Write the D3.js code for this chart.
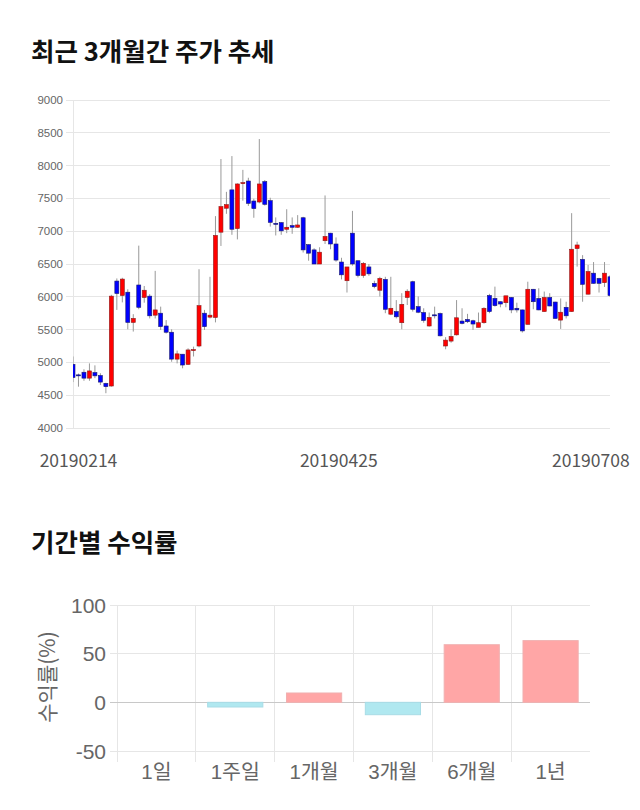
<!DOCTYPE html>
<html><head><meta charset="utf-8">
<script src="https://cdn.jsdelivr.net/npm/d3@7/dist/d3.min.js"></script>
<style>
body{margin:0;background:#fff;}
svg{display:block;}
</style></head>
<body>
<div id="chart"></div>
<script>
// ---- Data: candlestick (최근 3개월간 주가 추세) ----
const opens  = [4970,4810,4850,4760,4845,4800,4680,4640,6240,6020,6070,5610,6180,5990,6010,5720,5750,5555,5460,5050,5125,4970,5190,5250,5750,5690,5685,6985,7350,7630,7040,7735,7765,7460,7445,7755,7465,7120,7130,7030,7085,7060,7205,6795,6715,6500,6855,6970,6805,6530,6245,6970,6550,6325,6455,6205,6100,6265,5735,5775,5605,5990,6230,5850,5760,5555,5725,5745,5250,5325,5420,5630,5655,5635,5535,5605,6020,5975,5925,5910,5990,5825,5800,5580,6115,5975,5775,5990,5920,5645,5840,5775,6735,6570,6040,6360,6280,6215,6305];
const closes = [4770,4800,4760,4870,4795,4700,4630,6010,6050,6270,5610,5670,5840,6100,5710,5800,5545,5460,5050,5130,4960,5190,5195,5865,5545,5720,6935,7375,7405,7030,7720,7740,7425,7345,7720,7410,7135,7115,7005,7060,7060,7095,6715,6665,6500,6680,6920,6805,6560,6335,6455,6500,6325,6510,6350,6155,6280,5810,5825,5695,5885,6085,5810,5765,5640,5685,5720,5405,5340,5395,5680,5595,5620,5585,5605,5825,5775,5865,5890,6015,5800,5800,5480,6115,5925,5800,5990,5860,5670,5765,5710,6725,6790,6190,6385,6205,6205,6360,6020];
const highs  = [5090,4830,4895,4985,4955,4835,4690,6030,6280,6290,6115,5735,6780,6165,6040,6395,5850,5645,5505,5180,5125,5215,5240,6420,5800,6305,7230,8100,7600,8145,7730,7935,7815,7495,8405,7780,7510,7210,7140,7335,7210,7245,7220,6800,6740,6755,7545,6975,6905,6595,6455,7310,6550,6530,6500,6245,6305,6305,6305,5950,6055,6115,6245,6005,5825,5760,5850,5760,5385,5505,5950,5825,5740,5650,5760,5840,6045,6155,5930,6015,5995,5910,5805,6230,6120,6130,6080,6055,5925,5975,5925,7275,6840,6635,6485,6530,6290,6530,6330];
const lows   = [4700,4630,4720,4720,4760,4655,4530,4630,5800,5915,5505,5470,5810,5910,5670,5670,5495,5440,5010,4985,4910,4960,5090,5230,5495,5670,5610,6775,7265,6945,6875,7465,7385,7205,7425,7390,7070,6935,6945,6970,6960,7050,6675,6550,6500,6500,6805,6725,6535,6265,6065,6475,6295,6290,6320,6130,6005,5750,5720,5670,5505,5875,5775,5750,5605,5545,5670,5395,5200,5300,5410,5580,5600,5495,5535,5590,5750,5850,5840,5840,5750,5760,5455,5580,5810,5795,5770,5855,5665,5510,5670,5770,6460,5925,6035,6200,6065,6150,6000];
const priceTicks = [4000,4500,5000,5500,6000,6500,7000,7500,8000,8500,9000];
const dateLabels = ["20190214","20190425","20190708"];
const dateLabelIndex = [1,48.5,94.5];

// ---- Data: returns (기간별 수익률) ----
const periods = ["1일","1주일","1개월","3개월","6개월","1년"];
const returns = [0,-4.8,9.6,-12.7,59.2,63.4];
const returnTicks = [-50,0,50,100];

const W = 640, H = 810;
const svg = d3.select("#chart").append("svg").attr("width",W).attr("height",H);
const kfont = "'Noto Sans CJK KR','Noto Sans',sans-serif";
const afont = "'Liberation Sans',Arial,'Noto Sans CJK KR',sans-serif";

// Titles
svg.append("text").attr("x",31).attr("y",61).text("최근 3개월간 주가 추세")
  .attr("font-family",kfont).attr("font-weight",700).attr("font-size",25.5).attr("fill","#111");
svg.append("text").attr("x",31).attr("y",552).text("기간별 수익률")
  .attr("font-family",kfont).attr("font-weight",700).attr("font-size",25.5).attr("fill","#111");

// ---- Candlestick chart ----
const cx0 = 73, cx1 = 610, cy0 = 100, cy1 = 428;
const x = d3.scaleLinear().domain([0, opens.length-1]).range([cx0, cx1]);
const y = d3.scaleLinear().domain([4000, 9000]).range([cy1, cy0]);

const g1 = svg.append("g");
g1.selectAll("line.hg").data(priceTicks).join("line")
  .attr("x1",cx0-7).attr("x2",cx1).attr("y1",d=>y(d)).attr("y2",d=>y(d))
  .attr("stroke","#e6e6e6").attr("stroke-width",1).attr("shape-rendering","crispEdges");
g1.append("line").attr("x1",cx0).attr("x2",cx0).attr("y1",cy0).attr("y2",cy1)
  .attr("stroke","#e6e6e6").attr("shape-rendering","crispEdges");
g1.selectAll("text.yl").data(priceTicks).join("text")
  .attr("x",63).attr("y",d=>y(d)+4).attr("text-anchor","end")
  .attr("font-family",afont).attr("font-size",11.5).attr("fill","#666").text(d=>d);
g1.selectAll("text.xl").data(dateLabels).join("text")
  .attr("x",(d,i)=>x(dateLabelIndex[i])).attr("y",467).attr("text-anchor","middle")
  .attr("font-family",kfont).attr("font-size",17.5).attr("fill","#555").text(d=>d);

svg.append("clipPath").attr("id","clipC").append("rect")
  .attr("x",cx0).attr("y",cy0-5).attr("width",cx1-cx0).attr("height",cy1-cy0+10);
const candles = svg.append("g").attr("clip-path","url(#clipC)");
const idx = d3.range(opens.length);
candles.selectAll("line.wick").data(idx).join("line")
  .attr("x1",i=>x(i)).attr("x2",i=>x(i)).attr("y1",i=>y(highs[i])).attr("y2",i=>y(lows[i]))
  .attr("stroke","#999").attr("stroke-width",1);
const bw = 4;
candles.selectAll("rect.body").data(idx).join("rect")
  .attr("x",i=>x(i)-bw/2).attr("width",bw)
  .attr("y",i=>y(Math.max(opens[i],closes[i])))
  .attr("height",i=>Math.max(1,Math.abs(y(opens[i])-y(closes[i]))))
  .attr("fill",i=>closes[i]>=opens[i]?"#ff0000":"#0000ff")
  .attr("stroke",i=>closes[i]>=opens[i]?"#8b1a1a":"#1a1a6b").attr("stroke-width",0.6);

// ---- Returns bar chart ----
const bx0 = 117, bx1 = 590;
const xb = d3.scaleBand().domain(periods).range([bx0, bx1]).padding(0);
const yb = d3.scaleLinear().domain([-50,100]).range([751,605]);
const g2 = svg.append("g");
g2.selectAll("line.vg").data(periods).join("line")
  .attr("x1",d=>xb(d)).attr("x2",d=>xb(d)).attr("y1",yb(100)).attr("y2",762)
  .attr("stroke","#e6e6e6").attr("shape-rendering","crispEdges");
g2.selectAll("line.hg").data(returnTicks).join("line")
  .attr("x1",bx0-7).attr("x2",bx1).attr("y1",d=>yb(d)).attr("y2",d=>yb(d))
  .attr("stroke",d=>d===0?"#c8c8c8":"#e6e6e6").attr("shape-rendering","crispEdges");
g2.selectAll("text.yl").data(returnTicks).join("text")
  .attr("x",106).attr("y",d=>yb(d)+7.5).attr("text-anchor","end")
  .attr("font-family",afont).attr("font-size",21).attr("fill","#666").text(d=>d);
g2.selectAll("text.xl").data(periods).join("text")
  .attr("x",d=>xb(d)+xb.bandwidth()/2).attr("y",779).attr("text-anchor","middle")
  .attr("font-family",afont).attr("font-size",20.5).attr("fill","#666").text(d=>d);
g2.append("text").attr("transform","translate(55,677) rotate(-90)")
  .attr("text-anchor","middle").attr("font-family",kfont).attr("font-size",21)
  .attr("fill","#666").text("수익률(%)");
const barW = xb.bandwidth()*0.7;
g2.selectAll("rect.bar").data(periods).join("rect")
  .attr("x",d=>xb(d)+(xb.bandwidth()-barW)/2).attr("width",barW)
  .attr("y",(d,i)=>yb(Math.max(0,returns[i])))
  .attr("height",(d,i)=>Math.abs(yb(returns[i])-yb(0)))
  .attr("fill",(d,i)=>returns[i]>=0?"#ffa6a6":"#b0e8f0")
  .attr("stroke",(d,i)=>returns[i]>=0?"#f0b0b0":"#a8dce6").attr("stroke-width",1);
</script>
</body></html>
